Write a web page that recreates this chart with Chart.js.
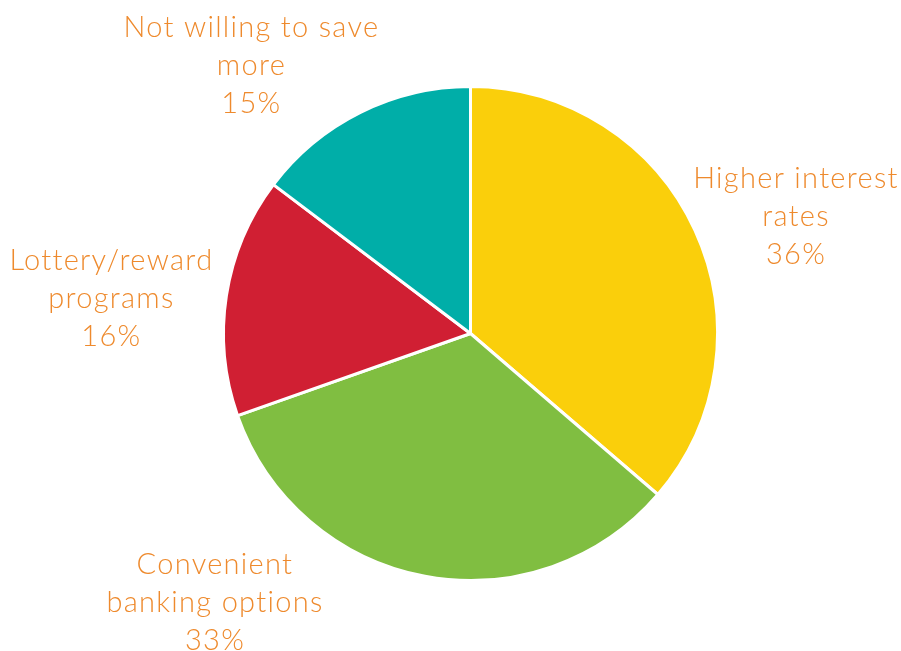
<!DOCTYPE html>
<html>
<head>
<meta charset="utf-8">
<script src="https://cdn.jsdelivr.net/npm/chart.js@4"></script>
<style>
  html, body { margin: 0; padding: 0; background: #fff; }
  #wrap { width: 901px; height: 651px; }
</style>
</head>
<body>
<div id="wrap"><canvas id="pie"></canvas></div>
<script>
// data (labels show the rounded share)
const categories = [
  ['Higher interest', 'rates'],
  ['Convenient', 'banking options'],
  ['Lottery/reward', 'programs'],
  ['Not willing to save', 'more']
];
const shares = [36.3, 33.3, 15.7, 14.7];
const sliceColors = ['#FACF0B', '#80BE41', '#D01F33', '#00AEA8'];

// where each label block sits, relative to the outer middle of its slice
const labelNudge = [[101, -15], [-210, 25], [-115, 1], [-109, -48]];

const outsideLabels = {
  id: 'outsideLabels',
  afterDatasetsDraw(chart) {
    const ctx = chart.ctx;
    const meta = chart.getDatasetMeta(0);
    ctx.save();
    ctx.fillStyle = '#EE8A2D';
    ctx.font = '300 29px Lato';
    ctx.letterSpacing = '1.3px';
    ctx.textAlign = 'center';
    ctx.textBaseline = 'alphabetic';
    meta.data.forEach((arc, i) => {
      const p = arc.getProps(['x', 'y', 'startAngle', 'endAngle', 'outerRadius'], true);
      const mid = (p.startAngle + p.endAngle) / 2;
      const x = p.x + Math.cos(mid) * p.outerRadius + labelNudge[i][0];
      const y = p.y + Math.sin(mid) * p.outerRadius + labelNudge[i][1];
      const lines = categories[i].concat([Math.round(shares[i]) + '%']);
      lines.forEach((t, j) => {
        ctx.fillText(t, x, y + 11 + (j - 1) * 38);
      });
    });
    ctx.restore();
  }
};

new Chart(document.getElementById('pie').getContext('2d'), {
  type: 'pie',
  data: {
    labels: categories.map(c => c.join(' ')),
    datasets: [{
      data: shares,
      backgroundColor: sliceColors,
      borderColor: '#ffffff',
      borderWidth: 3
    }]
  },
  options: {
    responsive: true,
    maintainAspectRatio: false,
    animation: false,
    layout: { padding: { left: 222, right: 182, top: 85, bottom: 69 } },
    plugins: {
      legend: { display: false },
      tooltip: { enabled: false }
    }
  },
  plugins: [outsideLabels]
});
</script>
</body>
</html>
